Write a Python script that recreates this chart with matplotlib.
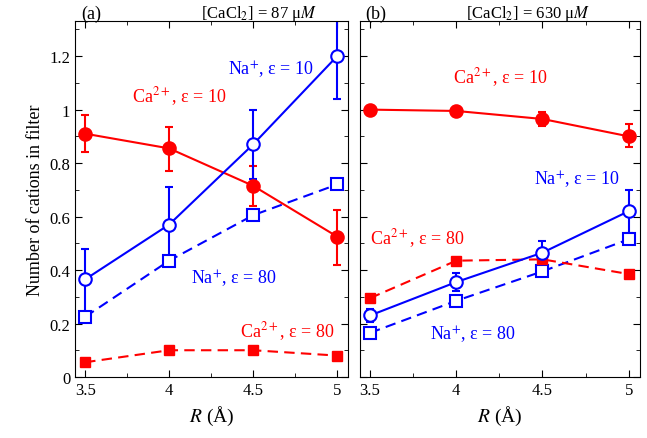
import matplotlib
matplotlib.use("Agg")
import matplotlib.pyplot as plt

plt.rcParams['font.family'] = ['Liberation Serif', 'DejaVu Serif']
plt.rcParams['mathtext.fontset'] = 'stix'

R = [3.5, 4.0, 4.5, 5.0]
# panel a
a_ca10 = [0.91, 0.855, 0.715, 0.525]; a_ca10_lo = [0.84, 0.77, 0.64, 0.42]; a_ca10_hi = [0.98, 0.935, 0.79, 0.625]
a_na10 = [0.365, 0.57, 0.87, 1.2]; a_na10_lo = [0.23, 0.43, 0.74, 1.04]; a_na10_hi = [0.48, 0.71, 1.0, 1.36]
a_na80 = [0.225, 0.435, 0.605, 0.72]
a_ca80 = [0.055, 0.1, 0.1, 0.08]
# panel b
b_ca10 = [1.0, 0.995, 0.965, 0.9]; b_ca10_lo = [0.99, 0.98, 0.94, 0.86]; b_ca10_hi = [1.01, 1.01, 0.99, 0.945]
b_na10 = [0.23, 0.355, 0.465, 0.62]; b_na10_lo = [0.205, 0.32, 0.42, 0.54]; b_na10_hi = [0.255, 0.39, 0.51, 0.70]
b_ca80 = [0.295, 0.435, 0.44, 0.385]
b_na80 = [0.165, 0.285, 0.395, 0.515]

fig = plt.figure(figsize=(6.47, 4.39), dpi=100)
ax1 = fig.add_axes([0.116, 0.139, 0.422, 0.81])
ax2 = fig.add_axes([0.556, 0.139, 0.433, 0.81])

def err(v, lo, hi):
    return [[x - l for x, l in zip(v, lo)], [h - x for x, h in zip(v, hi)]]

kw = dict(lw=1.5, ms=9, mew=1.5, capsize=3, elinewidth=1.5, capthick=1.5)
for ax, ca10, ca10e, na10, na10e, na80, ca80 in [
        (ax1, a_ca10, err(a_ca10, a_ca10_lo, a_ca10_hi), a_na10, err(a_na10, a_na10_lo, a_na10_hi), a_na80, a_ca80),
        (ax2, b_ca10, err(b_ca10, b_ca10_lo, b_ca10_hi), b_na10, err(b_na10, b_na10_lo, b_na10_hi), b_na80, b_ca80)]:
    ax.errorbar(R, ca10, yerr=ca10e, color='red', marker='o', **kw)
    ax.errorbar(R, na10, yerr=na10e, color='blue', marker='o', mfc='white', **kw)
    ax.plot(R, na80, color='blue', ls='--', dashes=(5, 3), marker='s', mfc='white', ms=8, mew=1.5, lw=1.5)
    ax.plot(R, ca80, color='red', ls='--', dashes=(5, 3), marker='s', ms=7, lw=1.5)
    ax.set_xlim(3.44, 5.065)
    ax.set_ylim(0, 1.33)
    ax.set_xticks([3.5, 4, 4.5, 5])
    ax.set_xticklabels(['3.5', '4', '4.5', '5'])
    ax.set_yticks([0, 0.2, 0.4, 0.6, 0.8, 1.0, 1.2])
    ax.tick_params(direction='in', top=True, right=True, labelsize=12, length=5)
    ax.set_xlabel(r'$R$ (Å)', fontsize=14)
    ax.set_yticks([0.1, 0.3, 0.5, 0.7, 0.9, 1.1, 1.3], minor=True)
    ax.set_xticks([3.75, 4.25, 4.75], minor=True)
    ax.tick_params(which='minor', direction='in', top=True, right=True, length=3)

ax1.set_yticklabels(['0', '0.2', '0.4', '0.6', '0.8', '1', '1.2'])
ax2.set_yticklabels([])
ax1.set_ylabel('Number of cations in filter', fontsize=13)

fs = 13
ax1.text(3.78, 1.03, r'Ca$^{2+}$, ε = 10', color='red', fontsize=fs)
ax1.text(4.35, 1.13, r'Na$^{+}$, ε = 10', color='blue', fontsize=fs)
ax1.text(4.13, 0.35, r'Na$^{+}$, ε = 80', color='blue', fontsize=fs)
ax1.text(4.42, 0.15, r'Ca$^{2+}$, ε = 80', color='red', fontsize=fs)
ax2.text(3.98, 1.1, r'Ca$^{2+}$, ε = 10', color='red', fontsize=fs)
ax2.text(4.45, 0.72, r'Na$^{+}$, ε = 10', color='blue', fontsize=fs)
ax2.text(3.5, 0.5, r'Ca$^{2+}$, ε = 80', color='red', fontsize=fs)
ax2.text(3.85, 0.14, r'Na$^{+}$, ε = 80', color='blue', fontsize=fs)

fig.text(0.125, 0.958, '(a)', fontsize=13)
fig.text(0.31, 0.958, r'[CaCl$_2$] = 87 μ$M$', fontsize=12)
fig.text(0.565, 0.958, '(b)', fontsize=13)
fig.text(0.72, 0.958, r'[CaCl$_2$] = 630 μ$M$', fontsize=12)

fig.savefig('out.png', dpi=100)
